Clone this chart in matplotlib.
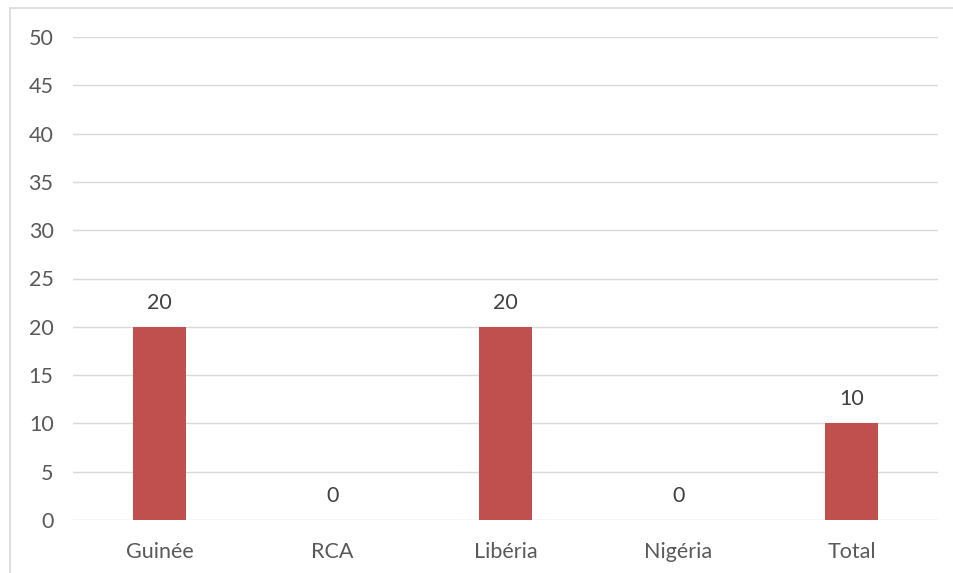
import matplotlib
matplotlib.use('Agg')
import matplotlib.pyplot as plt
from matplotlib.patches import Rectangle

categories = ['Guinée', 'RCA', 'Libéria', 'Nigéria', 'Total']
values = [20, 0, 20, 0, 10]
yticks = [0, 5, 10, 15, 20, 25, 30, 35, 40, 45, 50]

plt.rcParams['font.family'] = ['Lato', 'DejaVu Sans']

fig = plt.figure(figsize=(9.54, 5.73), dpi=100)
ax = fig.add_axes([73/954, 1 - 520/573, (938 - 73)/954, (520 - 37)/573])

x = range(len(categories))
bars = ax.bar(x, values, width=0.31, color='#C0504D', zorder=3)

for xi, v in zip(x, values):
    ax.text(xi, v + 2.5, f'{v}', ha='center', va='center',
            fontsize=15.5, color='#404040')

ax.set_xlim(-0.5, len(categories) - 0.5)
ax.set_ylim(0, 50)
ax.set_yticks(yticks)
ax.set_xticks(list(x))
ax.set_xticklabels(categories)
ax.grid(True, axis='y', color='#D9D9D9', lw=1.0, zorder=0)
for s in ax.spines.values():
    s.set_visible(False)
ax.tick_params(length=0, labelsize=15.5, colors='#595959')
ax.tick_params(axis='y', pad=14)
ax.tick_params(axis='x', pad=16)

# outer chart frame (cut at the right and bottom)
fig.patches.append(Rectangle((10/954, -0.05), 1.2, 1 - 8/573 + 0.05,
                             transform=fig.transFigure, fill=False,
                             edgecolor='#D9D9D9', lw=1.2))

fig.savefig('out.png', dpi=100)
